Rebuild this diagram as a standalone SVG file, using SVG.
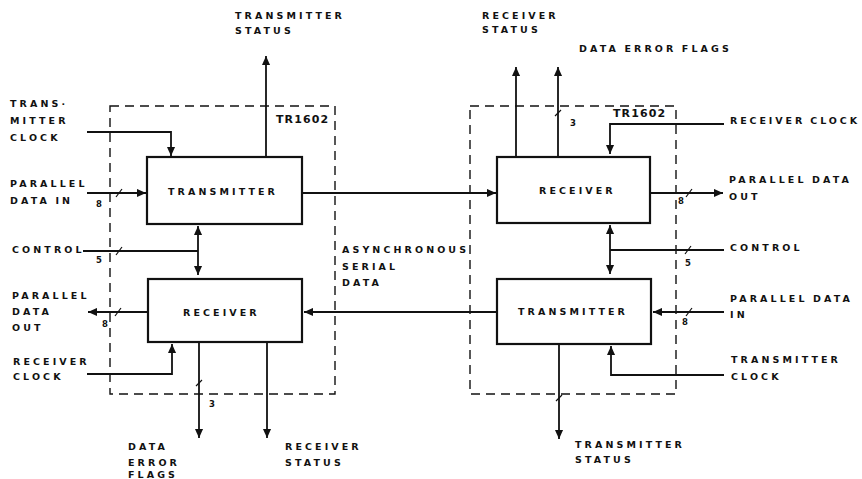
<svg xmlns="http://www.w3.org/2000/svg" width="862" height="479" viewBox="0 0 862 479">
<defs>
<style>
.t{font-family:"DejaVu Sans","Liberation Sans",Arial,sans-serif;font-weight:bold;font-size:9.5px;letter-spacing:3.1px;word-spacing:-1px;fill:#111}
.n{font-family:"DejaVu Sans","Liberation Sans",Arial,sans-serif;font-weight:bold;font-size:8.5px;fill:#111}
.tr{font-family:"DejaVu Sans","Liberation Sans",Arial,sans-serif;font-weight:bold;font-size:11px;letter-spacing:1.1px;fill:#111}
.box{fill:#fff;stroke:#111;stroke-width:2.2}
.dash{fill:none;stroke:#111;stroke-width:1.4;stroke-dasharray:9 6}
.c{fill:none;stroke:#111;stroke-width:1.8}
.ah{marker-end:url(#a)}
.bi{marker-start:url(#a);marker-end:url(#a)}
.s{stroke:#111;stroke-width:1.2}
</style>
<marker id="a" viewBox="0 0 10 10" refX="10" refY="5" markerWidth="9" markerHeight="9" markerUnits="userSpaceOnUse" orient="auto-start-reverse"><path d="M0,0.5 L10,5 L0,9.5 z" fill="#111"/></marker>
</defs>
<rect width="862" height="479" fill="#fff"/>

<g id="tr1602-left">
<rect class="dash" x="110" y="106" width="225" height="288"/>
<text class="tr" x="276" y="123">TR1602</text>
</g>
<g id="tr1602-right">
<rect class="dash" x="470" y="106" width="206" height="288"/>
<text class="tr" x="613" y="117">TR1602</text>
</g>

<g id="connectors">
<path class="c ah" d="M266,157 V56"/>
<path class="c ah" d="M87,132 H171 V156"/>
<path class="c ah" d="M87,193 H146"/>
<path class="c ah" d="M302,193 H496"/>
<path class="c bi" d="M198,226 V275"/>
<path class="c" d="M83,251 H198"/>
<path class="c ah" d="M148,312 H88"/>
<path class="c ah" d="M87,374 H172 V344"/>
<path class="c ah" d="M497,312 H304"/>
<path class="c ah" d="M199,342 V438"/>
<path class="c ah" d="M267,342 V438"/>
<path class="c ah" d="M516,157 V67"/>
<path class="c ah" d="M558,157 V67"/>
<path class="c ah" d="M724,124 H610 V154"/>
<path class="c ah" d="M650,193 H723"/>
<path class="c bi" d="M610,225 V274"/>
<path class="c" d="M724,250 H610"/>
<path class="c ah" d="M724,312 H653"/>
<path class="c ah" d="M724,375 H611 V346"/>
<path class="c ah" d="M559,344 V439"/>
<path class="s" d="M116,197 L122,189 M116,255 L122,247 M115,316 L121,308 M196,386 L202,380 M555,116 L561,110 M686,197 L692,189 M685,254 L691,246 M686,316 L692,308 M556,401 L562,395"/>
</g>

<g id="tx-left">
<rect class="box" x="147" y="157" width="155" height="67"/>
<text class="t" x="168" y="195">TRANSMITTER</text>
</g>
<g id="rx-left">
<rect class="box" x="148" y="279" width="154" height="63"/>
<text class="t" x="183" y="316">RECEIVER</text>
</g>
<g id="rx-right">
<rect class="box" x="497" y="157" width="153" height="66"/>
<text class="t" x="539" y="194">RECEIVER</text>
</g>
<g id="tx-right">
<rect class="box" x="497" y="279" width="154" height="65"/>
<text class="t" x="518" y="315">TRANSMITTER</text>
</g>

<g id="labels">
<text class="t" x="235" y="19">TRANSMITTER</text>
<text class="t" x="235" y="34">STATUS</text>
<text class="t" x="10" y="107">TRANS·</text>
<text class="t" x="10" y="124">MITTER</text>
<text class="t" x="10" y="141">CLOCK</text>
<text class="t" x="10" y="187">PARALLEL</text>
<text class="t" x="10" y="204">DATA IN</text>
<text class="n" x="96" y="207">8</text>
<text class="t" x="12" y="253">CONTROL</text>
<text class="n" x="96" y="263">5</text>
<text class="t" x="12" y="299">PARALLEL</text>
<text class="t" x="12" y="315">DATA</text>
<text class="t" x="12" y="331">OUT</text>
<text class="n" x="102" y="327">8</text>
<text class="t" x="13" y="365">RECEIVER</text>
<text class="t" x="13" y="380">CLOCK</text>
<text class="n" x="209" y="407">3</text>
<text class="t" x="128" y="450">DATA</text>
<text class="t" x="128" y="466">ERROR</text>
<text class="t" x="128" y="478">FLAGS</text>
<text class="t" x="285" y="450">RECEIVER</text>
<text class="t" x="285" y="466">STATUS</text>
<text class="t" x="342" y="253">ASYNCHRONOUS</text>
<text class="t" x="342" y="270">SERIAL</text>
<text class="t" x="342" y="286">DATA</text>
<text class="t" x="482" y="19">RECEIVER</text>
<text class="t" x="482" y="33">STATUS</text>
<text class="t" x="579" y="52">DATA ERROR FLAGS</text>
<text class="n" x="570" y="126">3</text>
<text class="t" x="730" y="124" style="letter-spacing:2.9px">RECEIVER CLOCK</text>
<text class="t" x="729" y="183">PARALLEL DATA</text>
<text class="t" x="729" y="200">OUT</text>
<text class="n" x="678" y="204">8</text>
<text class="t" x="730" y="251">CONTROL</text>
<text class="n" x="685" y="266">5</text>
<text class="t" x="730" y="302">PARALLEL DATA</text>
<text class="t" x="730" y="318">IN</text>
<text class="n" x="682" y="325">8</text>
<text class="t" x="731" y="363">TRANSMITTER</text>
<text class="t" x="731" y="380">CLOCK</text>
<text class="t" x="575" y="448">TRANSMITTER</text>
<text class="t" x="575" y="463">STATUS</text>
</g>
</svg>
